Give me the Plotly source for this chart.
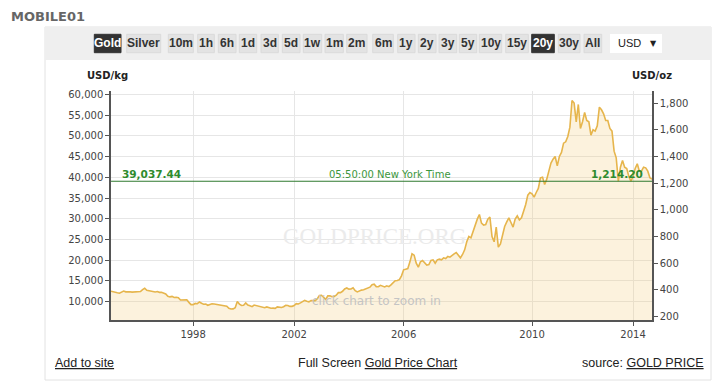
import plotly.graph_objects as go
import pandas as pd

# ---------------- data ----------------
OZ_PER_KG = 32.1507466

start_month = "1994-10-01"
end_month = "2014-10-01"
# additional mid-month samples of the chart's price series
extra_sample_dates = [
    "2003-06-15", "2004-03-15", "2004-09-15", "2005-09-15",
    "2006-05-15", "2006-06-15", "2006-10-15",
    "2007-02-15", "2007-05-15", "2007-08-15", "2007-10-15", "2007-11-15", "2007-12-15",
    "2008-02-15", "2008-07-15", "2008-09-15", "2009-02-15",
]

# gold price, USD/oz, in date order
gold_1994_1997 = [390, 384, 380,
                  378, 375, 384, 391, 385, 387, 386, 383, 384, 383, 387, 387,
                  402, 412, 396, 392, 391, 385, 384, 387, 381, 382, 377, 369,
                  352, 347, 351, 343, 344, 341, 324, 323, 323, 325, 306, 289]
gold_1998_2001 = [289, 298, 296, 309, 299, 292, 293, 284, 290, 296, 294, 291,
                  287, 287, 286, 282, 277, 261, 256, 257, 266, 312, 293, 283,
                  284, 302, 286, 280, 274, 286, 282, 275, 273, 270, 266, 272,
                  266, 262, 263, 261, 272, 270, 268, 273, 284, 283, 276, 276]
gold_2002_2005 = [282, 296, 294, 302, 314, 321, 314, 310, 319, 317, 319, 333,
                  357, 359, 340, 328, 355, 356, 348, 351, 360, 379, 379, 389, 407,
                  414, 405, 406, 415, 394, 384, 392, 398, 400, 406, 412, 420, 439, 442,
                  424, 423, 434, 429, 422, 430, 424, 437, 456, 468, 470, 476, 505]
gold_2006_2009 = [550, 555, 560, 610, 670, 660, 600, 570, 610, 620, 600, 585, 590, 620, 625,
                  600, 625, 630, 625, 640, 635, 650, 645, 660, 670, 680, 660, 640, 665, 700,
                  760, 800, 790,
                  840, 880, 930, 965, 900, 885, 890, 930, 945, 800, 760, 870, 720, 745, 820,
                  875, 910, 940, 905, 870, 930, 955, 925, 940, 990, 1040, 1110, 1130]
gold_2010_2014 = [1120, 1095, 1130, 1160, 1240, 1245, 1190, 1230, 1290, 1350, 1380, 1400,
                  1330, 1400, 1430, 1500, 1510, 1550, 1620, 1820, 1800, 1660, 1790, 1610,
                  1660, 1730, 1670, 1660, 1560, 1600, 1590, 1630, 1770, 1750, 1720, 1670,
                  1670, 1610, 1590, 1440, 1390, 1215, 1320, 1370, 1320, 1310, 1250, 1215,
                  1250, 1310, 1345, 1290, 1290, 1320, 1315, 1290, 1240, 1230]

year_ticks = ["1998", "2002", "2006", "2010", "2014"]
kg_ticks_step = 5000
oz_ticks_step = 200
kg_axis_range = [5588, 60796]

spot_usd_kg = 39037.44
spot_usd_oz = 1214.20
spot_time = "05:50:00 New York Time"

metal_buttons = ["Gold", "Silver"]
period_buttons = ["10m", "1h", "6h", "1d", "3d", "5d", "1w", "1m", "2m", "6m",
                  "1y", "2y", "3y", "5y", "10y", "15y", "20y", "30y", "All"]
selected_buttons = ["Gold", "20y"]

# ---------------- build series ----------------
dates = sorted(list(pd.date_range(start_month, end_month, freq="MS"))
               + [pd.Timestamp(d) for d in extra_sample_dates])
categories = [d.strftime("%Y-%m-%d") for d in dates]
usd_oz = gold_1994_1997 + gold_1998_2001 + gold_2002_2005 + gold_2006_2009 + gold_2010_2014
assert len(usd_oz) == len(categories), (len(usd_oz), len(categories))
usd_kg = [v * OZ_PER_KG for v in usd_oz]

# ---------------- layout helpers ----------------
# the page body adds an 8px margin around the figure
OFF = 8
W, H = 720 - OFF, 388 - OFF
PLOT_X0, PLOT_X1, PLOT_Y0, PLOT_Y1 = 111, 652, 91, 320   # page pixels
L, T = PLOT_X0 - OFF, PLOT_Y0 - OFF
R, B = W - (PLOT_X1 - OFF), H - (PLOT_Y1 - OFF)
PW = PLOT_X1 - PLOT_X0
PH = PLOT_Y1 - PLOT_Y0


def px(x):
    return (x - PLOT_X0) / PW


def py(y):
    return (PLOT_Y1 - y) / PH


TICK_FONT = dict(family="DejaVu Sans", size=10, color="#444444")
NARROW = "Liberation Sans Narrow, Arial Narrow, Liberation Sans, Arial"

fig = go.Figure()
fig.add_trace(go.Scatter(
    x=categories, y=usd_kg, mode="lines", fill="tozeroy",
    line=dict(color="#e6b54c", width=1.6),
    fillcolor="rgba(242, 205, 120, 0.25)",
    hoverinfo="skip", showlegend=False))
fig.add_trace(go.Scatter(
    x=categories, y=usd_oz, yaxis="y2", mode="lines",
    line=dict(width=0), opacity=0, hoverinfo="skip", showlegend=False))

shapes = []
annotations = []

# panel and toolbar
shapes.append(dict(type="rect", xref="paper", yref="paper", layer="below",
                   x0=px(45), x1=px(711), y0=py(380), y1=py(27),
                   line=dict(color="#e2e2e2", width=1), fillcolor="white"))
shapes.append(dict(type="rect", xref="paper", yref="paper", layer="below",
                   x0=px(45), x1=px(711), y0=py(60), y1=py(27),
                   line=dict(width=0), fillcolor="#efefef"))

button_edges = [(94.3, 121), (126.7, 160.7),
                (168.3, 193.3), (197.7, 214.3), (218.3, 236), (239.3, 256.7),
                (261, 278.3), (282.3, 300), (303.3, 321.7), (325, 343.3),
                (346.7, 367), (372.7, 393.3), (397.7, 415), (418.3, 436),
                (439, 456.7), (459.3, 476.7), (479.3, 501.7), (505.7, 528.3),
                (531.7, 554.3), (558.3, 580), (584, 601.7)]
for label, (x0, x1) in zip(metal_buttons + period_buttons, button_edges):
    sel = label in selected_buttons
    shapes.append(dict(type="rect", xref="paper", yref="paper", layer="below",
                       x0=px(x0), x1=px(x1), y0=py(52.7), y1=py(34.3),
                       line=dict(color="#333333" if sel else "#dadada", width=1),
                       fillcolor="#333333" if sel else "#e3e3e3"))
    annotations.append(dict(text=f"<b>{label}</b>", xref="paper", yref="paper",
                            x=px((x0 + x1) / 2), y=py(43.5), showarrow=False,
                            xanchor="center", yanchor="middle",
                            font=dict(family=NARROW, size=12,
                                      color="white" if sel else "#333333")))
# currency dropdown
shapes.append(dict(type="rect", xref="paper", yref="paper", layer="below",
                   x0=px(610), x1=px(662), y0=py(53), y1=py(34),
                   line=dict(width=0), fillcolor="white"))
annotations.append(dict(text="USD", xref="paper", yref="paper", x=px(616), y=py(43.5),
                        showarrow=False, xanchor="left", yanchor="middle",
                        font=dict(family="Liberation Sans, Arial", size=11, color="#222")))
annotations.append(dict(text="▼", xref="paper", yref="paper", x=px(653), y=py(43.5),
                        showarrow=False, xanchor="center", yanchor="middle",
                        font=dict(family="DejaVu Sans", size=8, color="#222")))

# logo
annotations.append(dict(text="<b>MOBILE01</b>", xref="paper", yref="paper",
                        x=px(9), y=py(17), showarrow=False, xanchor="left",
                        yanchor="middle",
                        font=dict(family="DejaVu Sans", size=13, color="#666")))

# axis unit labels
annotations.append(dict(text="<b>USD/kg</b>", xref="paper", yref="paper",
                        x=px(107), y=py(75), showarrow=False, xanchor="center",
                        yanchor="middle", font=dict(family="DejaVu Sans", size=10, color="#222")))
annotations.append(dict(text="<b>USD/oz</b>", xref="paper", yref="paper",
                        x=px(652), y=py(75), showarrow=False, xanchor="center",
                        yanchor="middle", font=dict(family="DejaVu Sans", size=10, color="#222")))

# watermark and hint
annotations.append(dict(text="GOLDPRICE.ORG", xref="paper", yref="paper",
                        x=px(374), y=py(236), showarrow=False, xanchor="center",
                        yanchor="middle",
                        font=dict(family="Liberation Serif, DejaVu Serif", size=23, color="#ebebeb")))
annotations.append(dict(text="click chart to zoom in", xref="paper", yref="paper",
                        x=px(376.5), y=py(301), showarrow=False, xanchor="center",
                        yanchor="middle",
                        font=dict(family="DejaVu Sans", size=12, color="#c4c4c4")))

# spot line + labels
shapes.append(dict(type="line", xref="paper", yref="y", x0=0, x1=1,
                   y0=spot_usd_kg, y1=spot_usd_kg, layer="above",
                   line=dict(color="#2f7a2f", width=1.2)))
annotations.append(dict(text=f"<b>{spot_usd_kg:,.2f}</b>", xref="paper", yref="y",
                        x=px(120), y=spot_usd_kg, yshift=7, showarrow=False,
                        xanchor="left", yanchor="middle",
                        font=dict(family="DejaVu Sans", size=10.5, color="#2e8b2e")))
annotations.append(dict(text=spot_time, xref="paper", yref="y",
                        x=px(390), y=spot_usd_kg, yshift=7, showarrow=False,
                        xanchor="center", yanchor="middle",
                        font=dict(family="DejaVu Sans", size=10, color="#3c963c")))
annotations.append(dict(text=f"<b>{spot_usd_oz:,.2f}</b>", xref="paper", yref="y",
                        x=px(645), y=spot_usd_kg, yshift=7, showarrow=False,
                        xanchor="right", yanchor="middle",
                        font=dict(family="DejaVu Sans", size=10.5, color="#2e8b2e")))

# footer
annotations.append(dict(text="<u>Add to site</u>", xref="paper", yref="paper",
                        x=px(53), y=py(363), showarrow=False, xanchor="left",
                        yanchor="middle", font=dict(family=NARROW, size=12.5, color="#222")))
annotations.append(dict(text="Full Screen <u>Gold Price Chart</u>", xref="paper", yref="paper",
                        x=px(378), y=py(363), showarrow=False, xanchor="center",
                        yanchor="middle", font=dict(family=NARROW, size=12.5, color="#222")))
annotations.append(dict(text="source: <u>GOLD PRICE</u>", xref="paper", yref="paper",
                        x=px(706), y=py(363), showarrow=False, xanchor="right",
                        yanchor="middle", font=dict(family=NARROW, size=12.5, color="#222")))

fig.update_layout(
    width=W, height=H,
    margin=dict(l=L, r=R, t=T, b=B, pad=0),
    paper_bgcolor="white", plot_bgcolor="white",
    showlegend=False, hovermode=False,
    shapes=shapes, annotations=annotations,
    xaxis=dict(type="category", range=[0, len(categories) - 1],
               tickmode="array", tickvals=[f"{y}-01-01" for y in year_ticks],
               ticktext=year_ticks, showgrid=True, gridcolor="#e6e6e6", gridwidth=1,
               showline=True, linecolor="#555555", linewidth=1.5,
               ticks="outside", ticklen=4, tickcolor="#555555",
               tickfont=TICK_FONT, zeroline=False, fixedrange=True),
    yaxis=dict(range=kg_axis_range, tick0=0, dtick=kg_ticks_step, tickformat=",d",
               showgrid=True, gridcolor="#e6e6e6", gridwidth=1,
               showline=True, linecolor="#555555", linewidth=1.5,
               ticks="outside", ticklen=4, tickcolor="#555555",
               tickfont=TICK_FONT, zeroline=False, fixedrange=True),
    yaxis2=dict(range=[v / OZ_PER_KG for v in kg_axis_range], overlaying="y",
                side="right", anchor="x", tick0=0, dtick=oz_ticks_step, tickformat=",d",
                showgrid=False, showline=True, linecolor="#555555", linewidth=1.5,
                ticks="outside", ticklen=4, tickcolor="#555555",
                tickfont=TICK_FONT, zeroline=False, fixedrange=True),
)

fig.write_html("out.html")
